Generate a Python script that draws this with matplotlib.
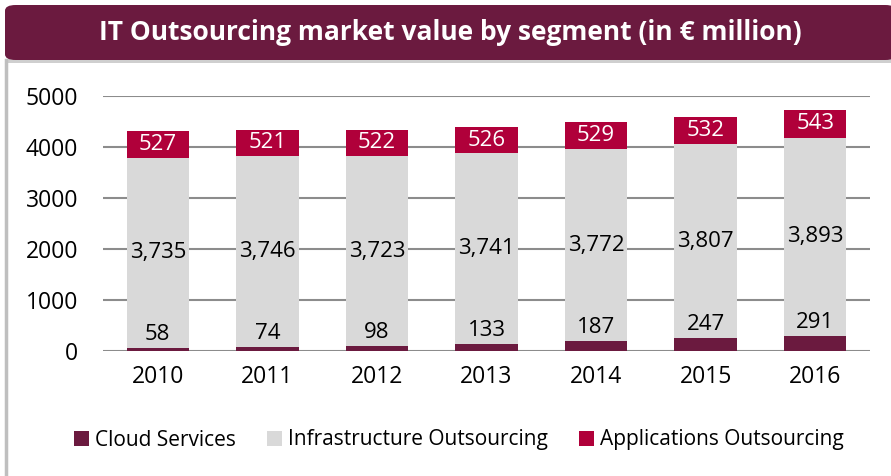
import matplotlib.pyplot as plt
from matplotlib.patches import FancyBboxPatch, Rectangle
from matplotlib.lines import Line2D

years = ["2010", "2011", "2012", "2013", "2014", "2015", "2016"]
cloud = [58, 74, 98, 133, 187, 247, 291]
infra = [3735, 3746, 3723, 3741, 3772, 3807, 3893]
apps = [527, 521, 522, 526, 529, 532, 543]

c_cloud = "#6B1A3F"
c_infra = "#D9D9D9"
c_apps = "#B0003A"

plt.rcParams['font.family'] = ['Open Sans', 'DejaVu Sans']

fig = plt.figure(figsize=(8.91, 4.76), dpi=100)

# title banner + frame
fig.add_artist(Line2D([6 / 891, 6 / 891], [0, 1 - 60 / 476], transform=fig.transFigure,
                      color="#BFBFBF", lw=2.5))
fig.patches.append(Rectangle((8 / 891, 1 - 63 / 476), 1, 56 / 476, transform=fig.transFigure,
                             facecolor="#CFCFCF", edgecolor="none", zorder=1))
fig.patches.append(FancyBboxPatch((5 / 891, 1 - 60 / 476), 1, 55 / 476, transform=fig.transFigure,
                                  boxstyle="round,pad=0,rounding_size=0.012",
                                  facecolor=c_cloud, edgecolor="none", zorder=2))
fig.text(0.505, 1 - 33 / 476, "IT Outsourcing market value by segment (in € million)",
         color="white", fontsize=19, fontweight="bold", ha="center", va="center", zorder=3)

ax = fig.add_axes([103 / 891, 1 - 351 / 476, (870 - 103) / 891, (351 - 96) / 476])
ax.set_zorder(5)
x = range(len(years))
w = 0.57
bottom2 = [c + i for c, i in zip(cloud, infra)]
ax.bar(x, cloud, w, color=c_cloud, zorder=3, label="Cloud Services")
ax.bar(x, infra, w, bottom=cloud, color=c_infra, zorder=3, label="Infrastructure Outsourcing")
ax.bar(x, apps, w, bottom=bottom2, color=c_apps, zorder=3, label="Applications Outsourcing")

for i in x:
    ax.text(i, cloud[i] + 60, f"{cloud[i]}", ha="center", va="bottom", fontsize=16, zorder=4)
    ax.text(i, cloud[i] + infra[i] / 2, f"{infra[i]:,}", ha="center", va="center", fontsize=16, zorder=4)
    ax.text(i, bottom2[i] + apps[i] / 2, f"{apps[i]}", ha="center", va="center", fontsize=16,
            color="white", zorder=4)

ax.set_xlim(-0.5, len(years) - 0.5)
ax.set_ylim(0, 5000)
ax.set_yticks(range(0, 5001, 1000))
ax.set_xticks(list(x))
ax.set_xticklabels(years)
ax.yaxis.grid(True, color="#8C8C8C", lw=1.5, zorder=0)
ax.tick_params(axis="both", length=0, labelsize=16.5)
ax.tick_params(axis="x", pad=10)
ax.tick_params(axis="y", pad=18)
for s in ax.spines.values():
    s.set_visible(False)
ax.set_axisbelow(True)

fig.legend(loc="center", bbox_to_anchor=(0.515, 1 - 440 / 476), ncol=3, frameon=False,
           fontsize=15, handlelength=0.7, handleheight=0.7, handletextpad=0.3, columnspacing=1.5)

fig.savefig("out.png", dpi=100)
